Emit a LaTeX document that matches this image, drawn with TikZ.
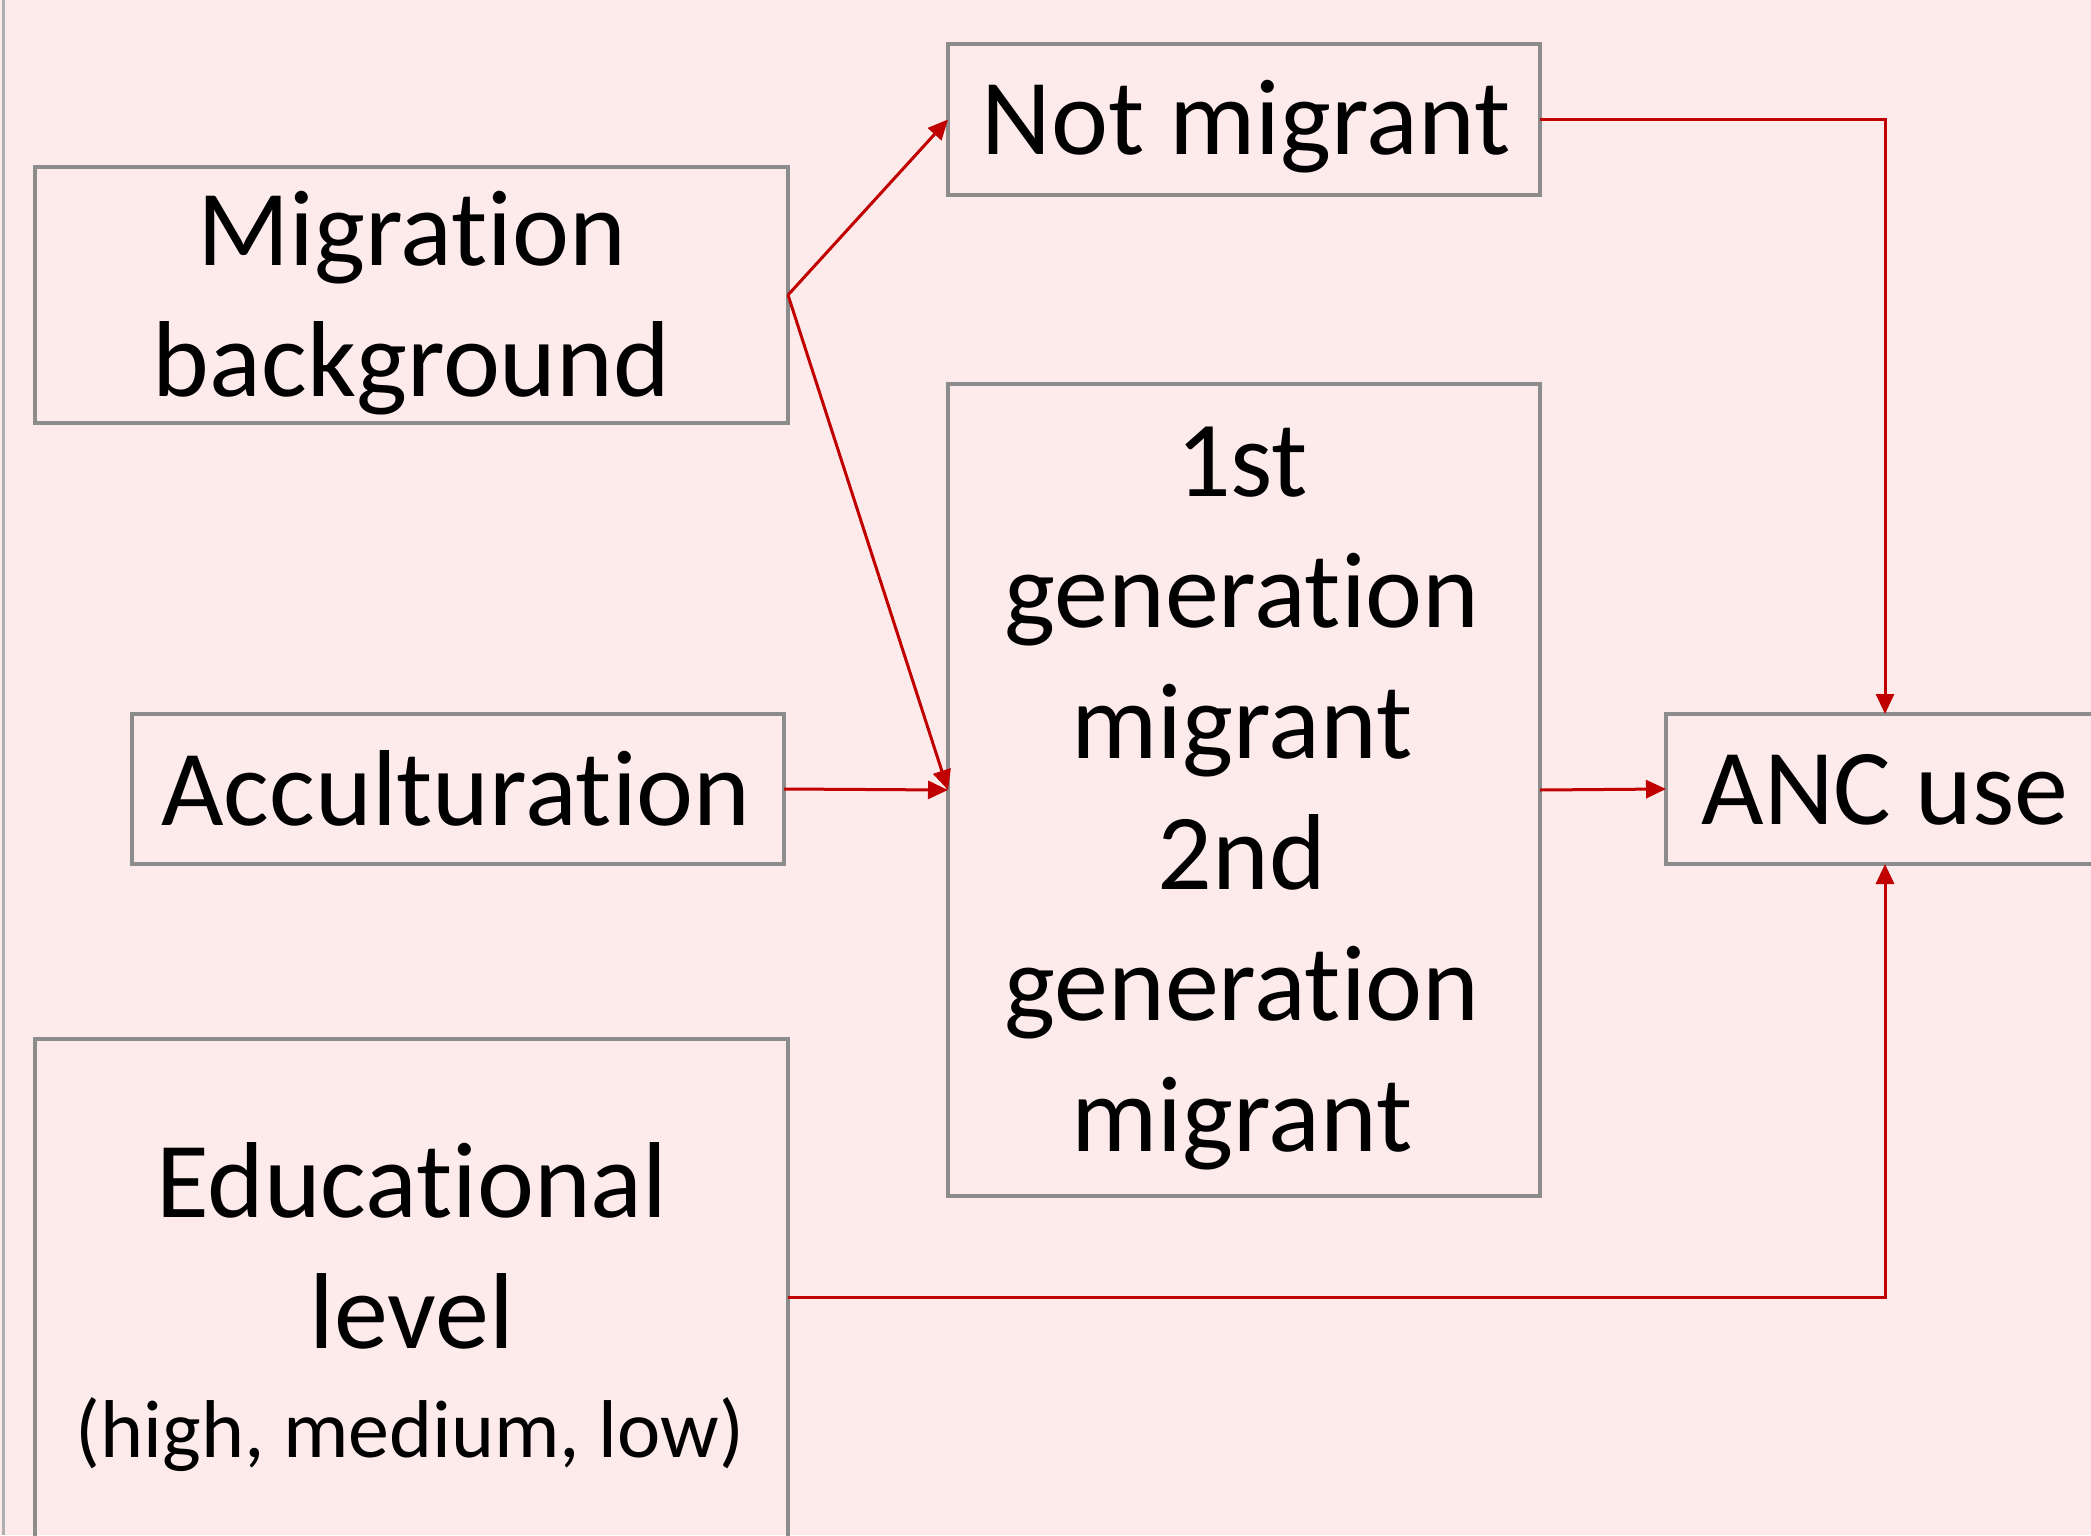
\documentclass[tikz,border=0pt]{standalone}
\usepackage{fontspec}
\setmainfont[Ligatures={NoCommon,NoRare,NoContextual},RawFeature={-calt}]{Carlito}
\usetikzlibrary{arrows.meta}
\definecolor{bgpink}{RGB}{253,234,234}
\definecolor{boxgray}{RGB}{140,140,140}
\definecolor{arrred}{RGB}{192,0,0}
\definecolor{edgegray}{RGB}{175,175,175}
\begin{document}
\begin{tikzpicture}[x=0.5pt,y=-0.5pt,
  box/.style={draw=boxgray, line width=1.6pt, inner sep=0pt, outer sep=0pt},
  txt/.style={font=\fontsize{54}{65.5}\selectfont, align=center, inner sep=0pt},
  smalltxt/.style={font=\fontsize{41}{49}\selectfont, inner sep=0pt},
  arr/.style={draw=arrred, line width=1.5pt, -{Triangle[length=10pt,width=9pt]}}]
\fill[bgpink] (0,0) rectangle (2091,1535);
\useasboundingbox (0,0) rectangle (2091,1535);
\draw[edgegray, line width=1.5pt] (3,0) -- (3,1535);

\node[box, minimum width=376.5pt, minimum height=128pt] (mig) at (411.5,295) {};
\node[box, minimum width=296pt, minimum height=75.5pt] (notm) at (1244,119.5) {};
\node[box, minimum width=296pt, minimum height=406pt] (gen) at (1244,790) {};
\node[box, minimum width=326pt, minimum height=75pt] (acc) at (458,789) {};
\node[box, minimum width=219pt, minimum height=75pt] (anc) at (1885,789) {};
\node[box, minimum width=376.5pt, minimum height=258pt] (edu) at (411.5,1297) {};

\node[txt] (migT) at (411.5,305) {\strut Migrat\kern0pt ion\\\strut background};
\node[txt, anchor=base] (notmT) at (1246,155) {Not migrant};
\node[txt] (genT) at (1242,798) {\strut 1st\\\strut generat\kern0pt ion\\\strut migrant\\\strut 2nd\\\strut generat\kern0pt ion\\\strut migrant};
\node[txt, anchor=base] (accT) at (456,825) {Accult\kern0pt urat\kern0pt ion};
\node[txt, anchor=base] (ancT) at (1885,824) {ANC use};
\node[txt] (eduT) at (412,1257) {\strut Educat\kern0pt ional\\\strut level};
\node[smalltxt, anchor=base] (eduS) at (410,1457) {(high, medium, low)};

\draw[arr] (mig.east) -- (notm.west);
\draw[arr] (mig.east) -- (gen.west);
\draw[arr] (acc.east) -- (gen.west);
\draw[arr] (gen.east) -- (anc.west);
\draw[arr] (notm.east) -| (anc.north);
\draw[arr] (edu.east) -| (anc.south);
\end{tikzpicture}
\end{document}
